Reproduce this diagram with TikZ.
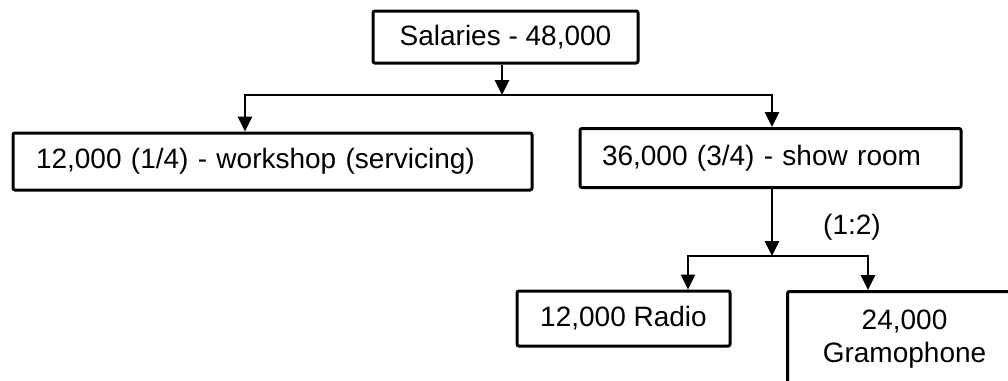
\documentclass[tikz,border=0pt]{standalone}
\usepackage{fontspec}
\setmainfont{Liberation Sans}
\usetikzlibrary{arrows.meta}
\begin{document}
\begin{tikzpicture}[x=1pt,y=-1pt,
 box/.style={draw,line width=3pt,rounded corners=2pt,inner sep=0pt,font=\fontsize{28}{33}\selectfont},
 conn/.style={line width=2.8pt},
 hline/.style={conn,line cap=rect},
 arr/.style={conn,-{Triangle[width=14pt,length=15pt]}},
 lbl/.style={font=\fontsize{28}{33}\selectfont}]
\useasboundingbox (0,0) rectangle (1008,380);
\clip (0,0) rectangle (1008,380);
\fill[white] (0,0) rectangle (1008,380);
\node[box,minimum width=265pt,minimum height=52pt] (top) at (505.5,37) {Salaries - 48,000};
\node[box,text width=473pt,align=left,inner xsep=23pt,minimum height=57pt] (wk) at (272.5,161.5) {12,000 (1/4) - workshop (servicing)};
\node[box,text width=337pt,align=left,inner xsep=22pt,minimum height=59pt] (sr) at (770.5,158) {36,000 (3/4) - show room};
\node[box,minimum width=213pt,minimum height=55pt] (radio) at (623.5,318.5) {12,000 Radio};
\node[box,minimum width=234pt,align=center,anchor=north west,inner ysep=18pt] (gram) at (786,290) {24,000\\Gramophone\rule[-20pt]{0pt}{0pt}};
\node[lbl] (ratio) at (852,227) {(1:2)};
\coordinate (j1) at (502,95);
\coordinate (jl) at (245,95);
\coordinate (jr) at (772,95);
\draw[arr] (j1 |- top.south) -- (j1);
\draw[hline] (jl) -- (jr);
\draw[arr] (jl) -- (jl |- wk.north);
\draw[arr] (jr) -- (jr |- sr.north);
\coordinate (j2) at (772,256);
\coordinate (kl) at (688,256);
\coordinate (kr) at (868,256);
\draw[arr] (j2 |- sr.south) -- (j2);
\draw[hline] (kl) -- (kr);
\draw[arr] (kl) -- (kl |- radio.north);
\draw[arr] (kr) -- (kr |- gram.north);
\end{tikzpicture}
\end{document}
